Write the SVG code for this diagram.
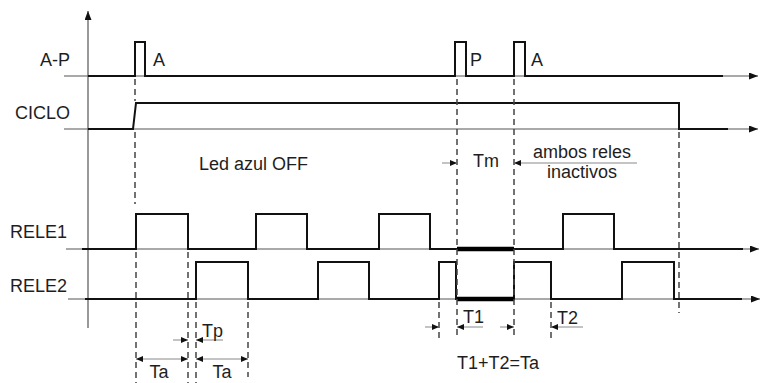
<svg xmlns="http://www.w3.org/2000/svg" width="763" height="383" viewBox="0 0 763 383">
<style>
  text { font-family: "Liberation Sans", Arial, sans-serif; font-size: 18px; fill: #1e1e1e; }
  .axis { stroke: #555; stroke-width: 1.2; fill: none; }
  .wave { stroke: #111; stroke-width: 2; fill: none; stroke-linejoin: miter; }
  .thick { stroke: #000; stroke-width: 4.5; fill: none; }
  .dash { stroke: #444; stroke-width: 1.5; stroke-dasharray: 6 4; fill: none; }
  .dim { stroke: #888; stroke-width: 1; fill: none; }
</style>
<defs>
  <marker id="axarrow" markerUnits="userSpaceOnUse" markerWidth="10" markerHeight="8" refX="9" refY="3.5" orient="auto">
    <path d="M0,0 L9,3.5 L0,7 z" fill="#111"/>
  </marker>
  <marker id="dimarrow" markerUnits="userSpaceOnUse" markerWidth="8" markerHeight="7" refX="7" refY="3" orient="auto-start-reverse">
    <path d="M0,0 L7,3 L0,6 z" fill="#111"/>
  </marker>
</defs>
<rect width="763" height="383" fill="#fff"/>

<g id="axes">
  <path class="axis" d="M88,328 L88,11" marker-end="url(#axarrow)"/>
</g>

<g id="sig-ap">
  <path class="axis" d="M64,76 L758,76" marker-end="url(#axarrow)"/>
  <path class="wave" d="M88,76 H135 V42 H145 V76 H455 V42 H466 V76 H514 V42 H525 V76 H723"/>
  <text x="70" y="66" text-anchor="end">A-P</text>
  <text x="153" y="66">A</text>
  <text x="470" y="66">P</text>
  <text x="531" y="66">A</text>
</g>

<g id="sig-ciclo">
  <path class="axis" d="M64,129 L758,129" marker-end="url(#axarrow)"/>
  <path class="wave" d="M88,129 H133 L136,103 H679 V129 H728"/>
  <text x="70" y="119" text-anchor="end">CICLO</text>
</g>

<g id="sig-rele1">
  <path class="axis" d="M66,249 L759,249" marker-end="url(#axarrow)"/>
  <path class="wave" d="M82,249 H136 V214 H188 V249 H256 V214 H307 V249 H379 V214 H430 V249 H563 V214 H614 V249 H743"/>
  <path class="thick" d="M457,249 H514"/>
  <text x="67" y="238" text-anchor="end">RELE1</text>
</g>

<g id="sig-rele2">
  <path class="axis" d="M68,299 L760,299" marker-end="url(#axarrow)"/>
  <path class="wave" d="M85,299 H196 V262 H248 V299 H318 V262 H369 V299 H439 V262 H456 V299 H514 V262 H551 V299 H622 V262 H674 V299 H742"/>
  <path class="thick" d="M457,299 H514"/>
  <text x="67" y="292" text-anchor="end">RELE2</text>
</g>

<g id="connectors">
  <path class="dash" d="M135,79 V101 M135,132 V204 M136,252 V383"/>
  <path class="dash" d="M188,252 V383"/>
  <path class="dash" d="M196,302 V383"/>
  <path class="dash" d="M248,302 V377"/>
  <path class="dash" d="M457,79 V339"/>
  <path class="dash" d="M514,79 V339"/>
  <path class="dash" d="M679,132 V313"/>
  <path class="dash" d="M439,302 V339"/>
  <path class="dash" d="M551,302 V339"/>

  <path class="dim" d="M442,163 L457,163" marker-end="url(#dimarrow)"/>
  <path class="dim" d="M637,163 L514,163" marker-end="url(#dimarrow)"/>
  <path class="dim" d="M173,340 L188,340" marker-end="url(#dimarrow)"/>
  <path class="dim" d="M223,340 L196,340" marker-end="url(#dimarrow)"/>
  <path class="dim" d="M136,359 L188,359" marker-start="url(#dimarrow)" marker-end="url(#dimarrow)"/>
  <path class="dim" d="M196,359 L248,359" marker-start="url(#dimarrow)" marker-end="url(#dimarrow)"/>
  <path class="dim" d="M425,327 L439,327" marker-end="url(#dimarrow)"/>
  <path class="dim" d="M483,327 L457,327" marker-end="url(#dimarrow)"/>
  <path class="dim" d="M500,327 L514,327" marker-end="url(#dimarrow)"/>
  <path class="dim" d="M583,327 L551,327" marker-end="url(#dimarrow)"/>
</g>

<g id="labels">
  <text x="199" y="170">Led azul OFF</text>
  <text x="473" y="167">Tm</text>
  <text x="582" y="158" text-anchor="middle">ambos reles</text>
  <text x="582" y="178" text-anchor="middle">inactivos</text>
  <text x="202" y="337">Tp</text>
  <text x="159" y="378" text-anchor="middle">Ta</text>
  <text x="222" y="378" text-anchor="middle">Ta</text>
  <text x="463" y="323">T1</text>
  <text x="557" y="324">T2</text>
  <text x="457" y="369">T1+T2=Ta</text>
</g>
</svg>
